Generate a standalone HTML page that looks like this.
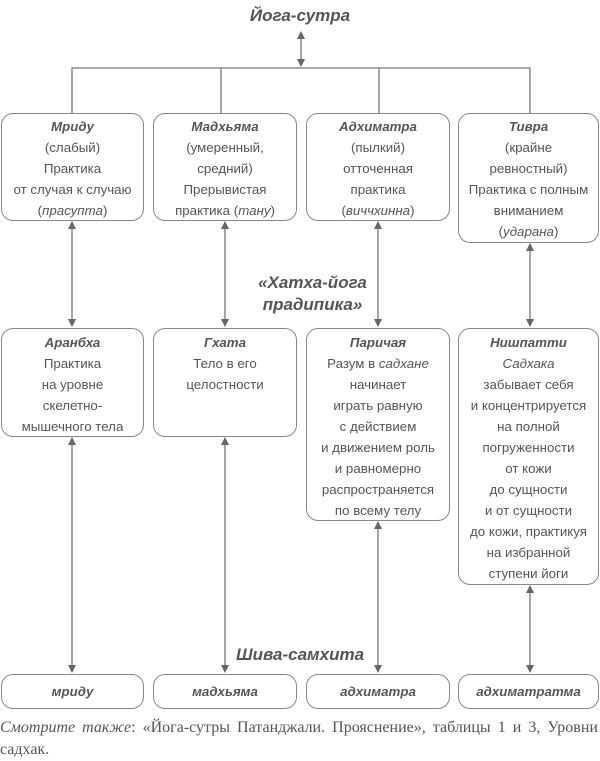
<!DOCTYPE html>
<html><head><meta charset="utf-8"><style>
body{margin:0;width:600px;height:758px;background:#fff;position:relative;font-family:"Liberation Sans",sans-serif;color:#555;overflow:hidden}
.b{position:absolute;border:1.3px solid #888;border-radius:12px;box-sizing:border-box;text-align:center;font-size:13.3px;line-height:21px;padding-top:2px;background:#fff}
.h{font-weight:bold;font-style:italic}
i{font-style:italic}
.t{position:absolute;font-weight:bold;font-style:italic;font-size:17px;text-align:center;color:#555}
.cap{position:absolute;left:0;top:717px;width:598px;font-family:"Liberation Serif",serif;font-size:16px;line-height:22px;color:#555}
.cap span{display:block;text-align:justify;text-align-last:justify}
</style></head><body>
<svg width="600" height="758" style="position:absolute;left:0;top:0">
<defs><marker id="a" markerWidth="8" markerHeight="10" refX="7" refY="4" orient="auto-start-reverse" markerUnits="userSpaceOnUse"><path d="M0,0 L8,4 L0,8 z" fill="#666"/></marker></defs>
<g stroke="#777" stroke-width="1.3" fill="none">
<line x1="301" y1="32" x2="301" y2="66" marker-start="url(#a)" marker-end="url(#a)"/>
<polyline points="72,113 72,68 530,68 530,113"/>
<line x1="221" y1="68" x2="221" y2="113"/><line x1="379" y1="68" x2="379" y2="113"/>
<line x1="72" y1="222" x2="72" y2="326" marker-start="url(#a)" marker-end="url(#a)"/>
<line x1="225" y1="222" x2="225" y2="326" marker-start="url(#a)" marker-end="url(#a)"/>
<line x1="378" y1="222" x2="378" y2="326" marker-start="url(#a)" marker-end="url(#a)"/>
<line x1="530" y1="244" x2="530" y2="326" marker-start="url(#a)" marker-end="url(#a)"/>
<line x1="72" y1="438" x2="72" y2="672" marker-start="url(#a)" marker-end="url(#a)"/>
<line x1="225" y1="438" x2="225" y2="672" marker-start="url(#a)" marker-end="url(#a)"/>
<line x1="378" y1="522" x2="378" y2="672" marker-start="url(#a)" marker-end="url(#a)"/>
<line x1="530" y1="586" x2="530" y2="672" marker-start="url(#a)" marker-end="url(#a)"/>
</g></svg>
<div class="t" style="left:200px;top:6px;width:200px">Йога-сутра</div>
<div class="t" style="left:200px;top:272px;width:225px;line-height:22px">«Хатха-йога<br>прадипика»</div>
<div class="t" style="left:200px;top:645px;width:200px">Шива-самхита</div>

<div class="b" style="left:1px;top:113px;width:143px;height:108px"><span class="h">Мриду</span><br>(слабый)<br>Практика<br>от случая к случаю<br>(<i>прасупта</i>)</div>
<div class="b" style="left:153px;top:113px;width:144px;height:108px"><span class="h">Мадхьяма</span><br>(умеренный,<br>средний)<br>Прерывистая<br>практика (<i>тану</i>)</div>
<div class="b" style="left:306px;top:113px;width:144px;height:108px"><span class="h">Адхиматра</span><br>(пылкий)<br>отточенная<br>практика<br>(<i>виччхинна</i>)</div>
<div class="b" style="left:458px;top:113px;width:141px;height:130px"><span class="h">Тивра</span><br>(крайне<br>ревностный)<br>Практика с полным<br>вниманием<br>(<i>ударана</i>)</div>

<div class="b" style="left:1px;top:328px;width:143px;height:109px;padding-top:3px"><span class="h">Аранбха</span><br>Практика<br>на уровне<br>скелетно-<br>мышечного тела</div>
<div class="b" style="left:153px;top:328px;width:144px;height:109px;padding-top:3px"><span class="h">Гхата</span><br>Тело в его<br>целостности</div>
<div class="b" style="left:306px;top:328px;width:144px;height:193px;padding-top:3px"><span class="h">Паричая</span><br>Разум в <i>садхане</i><br>начинает<br>играть равную<br>с действием<br>и движением роль<br>и равномерно<br>распространяется<br>по всему телу</div>
<div class="b" style="left:458px;top:328px;width:141px;height:257px;padding-top:3px"><span class="h">Нишпатти</span><br><i>Садхака</i><br>забывает себя<br>и концентрируется<br>на полной<br>погруженности<br>от кожи<br>до сущности<br>и от сущности<br>до кожи, практикуя<br>на избранной<br>ступени йоги</div>

<div class="b h" style="left:1px;top:674px;width:143px;height:35px;padding-top:6px">мриду</div>
<div class="b h" style="left:153px;top:674px;width:144px;height:35px;padding-top:6px">мадхьяма</div>
<div class="b h" style="left:306px;top:674px;width:144px;height:35px;padding-top:6px">адхиматра</div>
<div class="b h" style="left:458px;top:674px;width:141px;height:35px;padding-top:6px">адхиматратма</div>

<div class="cap"><span><i>Смотрите также</i>: «Йога-сутры Патанджали. Прояснение», таблицы 1 и 3, Уровни</span>садхак.</div>
</body></html>
